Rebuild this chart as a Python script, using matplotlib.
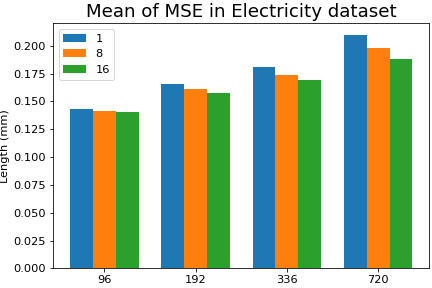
import matplotlib
matplotlib.use("Agg")
import matplotlib.pyplot as plt
import numpy as np

horizons = ["96", "192", "336", "720"]
labels = ["1", "8", "16"]
mse_1 = [0.1431, 0.1656, 0.1809, 0.2096]
mse_8 = [0.1413, 0.1611, 0.1737, 0.1979]
mse_16 = [0.1404, 0.1575, 0.1692, 0.1880]

plt.rcParams["font.size"] = 11.4

x = np.arange(len(horizons))
width = 0.25

fig, ax = plt.subplots(figsize=(6, 4), dpi=72)
ax.bar(x - width, mse_1, width, label=labels[0])
ax.bar(x, mse_8, width, label=labels[1])
ax.bar(x + width, mse_16, width, label=labels[2])

ax.set_ylabel("Length (mm)")
ax.set_title("Mean of MSE in Electricity dataset", fontsize=18.2)
ax.set_xticks(x)
ax.set_xticklabels(horizons)
ax.legend(loc="upper left")

fig.subplots_adjust(left=0.123, right=0.994, top=0.919, bottom=0.068)
fig.savefig("out.png")
